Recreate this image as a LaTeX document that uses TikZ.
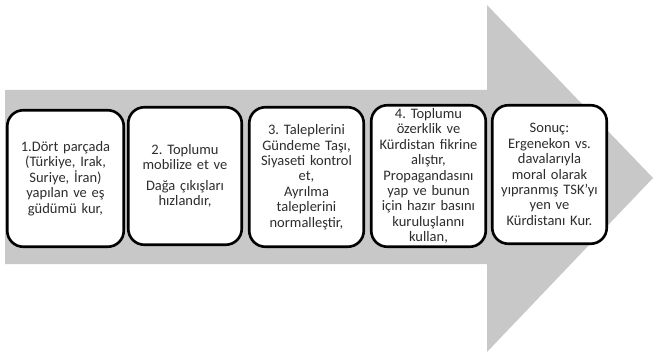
\documentclass[tikz,border=0pt]{standalone}
\usepackage{fontspec}
\setmainfont{Carlito}
\frenchspacing
\definecolor{arrowgray}{RGB}{200,200,200}
\definecolor{txt}{RGB}{45,45,45}
\begin{document}
\begin{tikzpicture}[x=1pt,y=-1pt,
  stepbox/.style={draw=black, line width=2.6pt, fill=white, rounded corners=16pt,
    align=center, font=\fontsize{14.5}{15.4}\selectfont\frenchspacing, text=txt,
    inner sep=0pt, text width=110pt}]
\useasboundingbox (0,0) rectangle (654,353);
\fill[white] (0,0) rectangle (654,353);
\fill[arrowgray] (5,90) -- (487,90) -- (487,5) -- (653,178) -- (487,352) -- (487,264) -- (5,264) -- cycle;
\node[stepbox, minimum width=116.5pt, minimum height=136.5pt] (b1) at (65.5,178.5)
  {1.Dört parçada\\(Türkiye, Irak,\\Suriye, İran)\\yapılan ve eş\\güdümü kur,};
\node[stepbox, minimum width=113.5pt, minimum height=137.5pt] (b2) at (185,176)
  {2. Toplumu\\mobilize et ve\\[5pt]Dağa çıkışları\\hızlandır,};
\node[stepbox, minimum width=114.5pt, minimum height=139.5pt] (b3) at (306.5,177)
  {3. Taleplerini\\Gündeme Taşı,\\Siyaseti kontrol\\et,\\Ayrılma\\taleplerini\\normalleştir,};
\node[stepbox, minimum width=114.5pt, minimum height=141.5pt] (b4) at (428.5,176)
  {4. Toplumu\\özerklik ve\\Kürdistan fikrine\\alıştır,\\Propagandasını\\yap ve bunun\\için hazır basını\\kuruluşlannı\\kullan,};
\node[stepbox, minimum width=114.5pt, minimum height=138.5pt] (b5) at (549.5,174.5)
  {Sonuç:\\Ergenekon vs.\\davalarıyla\\moral olarak\\yıpranmış TSK’yı\\yen ve\\Kürdistanı Kur.};
\end{tikzpicture}
\end{document}
